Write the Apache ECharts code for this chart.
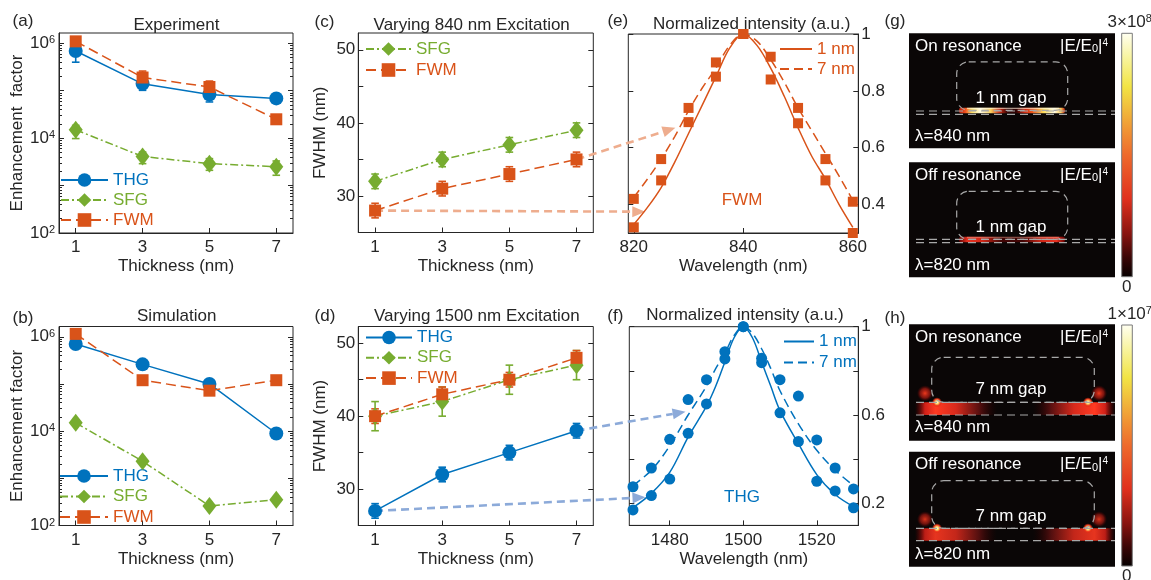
<!DOCTYPE html>
<html>
<head>
<meta charset="utf-8">
<script src="https://cdn.jsdelivr.net/npm/echarts@6/dist/echarts.min.js"></script>
<style>
  html, body { margin: 0; padding: 0; background: #fff; }
  #fig { width: 1151px; height: 580px; }
</style>
</head>
<body>
<div id="fig"></div>
<script>
// ---- data ----
const THICKNESS = [1, 3, 5, 7];

// (a) experiment
const EXP_THG = [6.9e5, 1.4e5, 8.3e4, 6.9e4];
const EXP_THG_LO = [4.0e5, 1.02e5, 5.8e4, 6.0e4];
const EXP_THG_HI = [1.0e6, 1.66e5, 1.02e5, 7.8e4];
const EXP_SFG = [1.5e4, 4.1e3, 2.9e3, 2.5e3];
const EXP_SFG_LO = [9.8e3, 2.9e3, 2.1e3, 1.65e3];
const EXP_SFG_HI = [1.86e4, 5.1e3, 3.7e3, 3.3e3];
const EXP_FWM = [1.1e6, 1.9e5, 1.2e5, 2.5e4];
const EXP_FWM_LO = [9.1e5, 1.4e5, 9.4e4, 2.3e4];
const EXP_FWM_HI = [1.35e6, 2.6e5, 1.6e5, 2.7e4];

// (b) simulation
const SIM_THG = [7.0e5, 2.6e5, 1.0e5, 8.9e3];
const SIM_SFG = [1.5e4, 2.3e3, 2.6e2, 3.5e2];
const SIM_FWM = [1.15e6, 1.2e5, 7.2e4, 1.2e5];

// (c) FWHM, 840 nm excitation
const C_SFG = [32, 35, 37, 39];
const C_SFG_ERR = [1, 1, 1, 1];
const C_FWM = [28, 31, 33, 35];
const C_FWM_ERR = [1, 1, 1, 1];

// (d) FWHM, 1500 nm excitation
const D_THG = [27, 32, 35, 38];
const D_THG_ERR = [1, 1, 1, 1];
const D_SFG = [40, 42, 45, 47];
const D_SFG_ERR = [2, 2, 2, 2];
const D_FWM = [40, 43, 45, 48];
const D_FWM_ERR = [1, 1, 1, 1];

// (e) FWM spectra
const E_WL = [820, 825, 830, 835, 840, 845, 850, 855, 860];
const E_PTS_1NM = [0.32, 0.485, 0.69, 0.85, 1.0, 0.84, 0.686, 0.485, 0.30];
const E_PTS_7NM = [0.42, 0.56, 0.74, 0.90, 1.0, 0.92, 0.74, 0.56, 0.41];
const E_FIT_WL = [820, 822.5, 825, 827.5, 830, 832.5, 835, 837.5, 840, 842.5, 845, 847.5, 850, 852.5, 855, 857.5, 860];
const E_FIT_1NM = [0.33, 0.39, 0.46, 0.55, 0.65, 0.75, 0.85, 0.95, 1.0, 0.96, 0.88, 0.78, 0.67, 0.57, 0.49, 0.40, 0.32];
const E_FIT_7NM = [0.425, 0.49, 0.56, 0.64, 0.73, 0.81, 0.88, 0.96, 1.0, 0.975, 0.91, 0.83, 0.74, 0.66, 0.58, 0.50, 0.415];

// (f) THG spectra
const F_WL = [1470, 1475, 1480, 1485, 1490, 1495, 1500, 1505, 1510, 1515, 1520, 1525, 1530];
const F_PTS_1NM = [0.17, 0.235, 0.31, 0.517, 0.65, 0.854, 1.0, 0.837, 0.61, 0.48, 0.30, 0.256, 0.18];
const F_PTS_7NM = [0.275, 0.36, 0.49, 0.67, 0.76, 0.887, 1.0, 0.857, 0.76, 0.686, 0.487, 0.36, 0.265];
const F_FIT_WL = [1470, 1475, 1480, 1485, 1490, 1492.5, 1495, 1497.5, 1500, 1502.5, 1505, 1507.5, 1510, 1515, 1520, 1525, 1530];
const F_FIT_1NM = [0.18, 0.245, 0.34, 0.50, 0.64, 0.73, 0.84, 0.95, 1.0, 0.95, 0.84, 0.73, 0.62, 0.47, 0.33, 0.24, 0.185];
const F_FIT_7NM = [0.28, 0.35, 0.46, 0.60, 0.73, 0.81, 0.88, 0.96, 1.0, 0.97, 0.90, 0.81, 0.71, 0.56, 0.44, 0.35, 0.28];

// tick labels
const THICK_TICKS = [1, 3, 5, 7];
const LOG_LABELS = [1e2, 1e4, 1e6];
const LOG_MAJOR = [1e2, 1e3, 1e4, 1e5, 1e6];
const FWHM_LABELS = [30, 40, 50];
const FWHM_TICKS = [30, 35, 40, 45, 50];
const E_X_TICKS = [820, 840, 860];
const E_Y_LABELS = [0.4, 0.6, 0.8, 1];
const F_X_TICKS = [1480, 1500, 1520];
const F_Y_LABELS = [0.2, 0.6, 1];
const F_Y_TICKS = [0.2, 0.4, 0.6, 0.8, 1];

const LOG_MINOR = [];
for (let e = 2; e <= 6; e++) {
  for (let m = 2; m <= 9; m++) {
    if (m * Math.pow(10, e) < 1.65e6) LOG_MINOR.push(m * Math.pow(10, e));
  }
}

// ---- style ----
const FONT = '"Liberation Sans", Arial, Helvetica, sans-serif';
const INK = '#262626';
const BLUE = '#0072BD', ORANGE = '#D95319', GREEN = '#77AC30';
const STYLE = {
  THG: { color: BLUE, symbol: 'circle', size: 14, dash: 'solid' },
  SFG: { color: GREEN, symbol: 'diamond', size: [14, 18], dash: [8, 3, 2, 3] },
  FWM: { color: ORANGE, symbol: 'rect', size: 12, dash: [10, 5] }
};

const grids = [], xAxes = [], yAxes = [], series = [], legends = [], graphics = [];

function addGrid(left, top, width, height) {
  grids.push({ left, top, width, height, show: true, borderColor: INK, borderWidth: 1,
    backgroundColor: 'transparent', containLabel: false, outerBoundsMode: 'none' });
  return grids.length - 1;
}

function addX(gi, min, max, ticks, name) {
  xAxes.push({
    type: 'value', gridIndex: gi, min, max, position: 'bottom',
    name, nameLocation: 'middle', nameGap: 25,
    nameTextStyle: { color: INK, fontSize: 17, fontFamily: FONT },
    axisLine: { show: true, onZero: false, lineStyle: { color: INK, width: 1 } },
    axisTick: { show: true, inside: true, length: 5, customValues: ticks, lineStyle: { color: INK } },
    axisLabel: { customValues: ticks, color: INK, fontSize: 17, fontFamily: FONT, margin: 6,
      formatter: v => String(v) },
    splitLine: { show: false }
  });
  return xAxes.length - 1;
}

// one y axis; returns its index
function addY(gi, o) {
  const ax = {
    type: o.type || 'value', gridIndex: gi, min: o.min, max: o.max, position: o.position || 'left',
    axisLine: { show: !!o.line, onZero: false, lineStyle: { color: INK, width: 1 } },
    axisTick: { show: true, inside: true, length: o.tickLen || 5, customValues: o.ticks, lineStyle: { color: INK } },
    axisLabel: o.labels
      ? { customValues: o.labels, color: INK, fontSize: 17, fontFamily: FONT, margin: o.margin || 4,
          formatter: o.formatter || (v => String(v)), rich: o.rich }
      : { show: false },
    splitLine: { show: false }
  };
  if (o.name) {
    ax.name = o.name;
    ax.nameLocation = 'middle';
    ax.nameGap = o.nameGap || 29;
    ax.nameTextStyle = { color: INK, fontSize: 17, fontFamily: FONT };
  }
  yAxes.push(ax);
  return yAxes.length - 1;
}

function logAxes(gi, name) {
  const base = { type: 'log', min: 100, max: 1.65e6 };
  const main = addY(gi, Object.assign({}, base, {
    line: true, labels: LOG_LABELS, ticks: LOG_MAJOR, name, nameGap: 30,
    formatter: v => '10{s|' + Math.round(Math.log10(v)) + '}',
    rich: { s: { fontSize: 11, verticalAlign: 'top', color: INK, fontFamily: FONT } }
  }));
  addY(gi, Object.assign({}, base, { ticks: LOG_MINOR, tickLen: 3 }));
  addY(gi, Object.assign({}, base, { position: 'right', ticks: LOG_MAJOR }));
  addY(gi, Object.assign({}, base, { position: 'right', ticks: LOG_MINOR, tickLen: 3 }));
  return main;
}

function fwhmAxes(gi) {
  const base = { min: 25, max: 52.3 };
  const main = addY(gi, Object.assign({}, base, {
    line: true, labels: FWHM_LABELS, ticks: FWHM_TICKS, name: 'FWHM (nm)', nameGap: 29, margin: 3
  }));
  addY(gi, Object.assign({}, base, { position: 'right', ticks: FWHM_TICKS }));
  return main;
}

function pairs(xs, ys) { return xs.map((x, i) => [x, ys[i]]); }

function lineSeries(kind, xi, yi, ys) {
  const s = STYLE[kind];
  series.push({
    type: 'line', name: kind, xAxisIndex: xi, yAxisIndex: yi, data: pairs(THICKNESS, ys),
    symbol: s.symbol, symbolSize: s.size, z: 5,
    lineStyle: { color: s.color, width: 1.5, type: s.dash },
    itemStyle: { color: s.color }
  });
}

function errorSeries(kind, xi, yi, lo, hi) {
  const color = STYLE[kind].color;
  series.push({
    type: 'custom', name: kind + ' err', xAxisIndex: xi, yAxisIndex: yi, z: 4,
    data: THICKNESS.map((x, i) => [x, lo[i], hi[i]]),
    renderItem(params, api) {
      const x = api.value(0);
      const a = api.coord([x, api.value(1)]), b = api.coord([x, api.value(2)]);
      const w = 3.8, st = { stroke: color, lineWidth: 1.6 };
      return { type: 'group', children: [
        { type: 'line', shape: { x1: a[0], y1: a[1], x2: b[0], y2: b[1] }, style: st },
        { type: 'line', shape: { x1: a[0] - w, y1: a[1], x2: a[0] + w, y2: a[1] }, style: st },
        { type: 'line', shape: { x1: b[0] - w, y1: b[1], x2: b[0] + w, y2: b[1] }, style: st }
      ] };
    }
  });
}

function symErr(kind, xi, yi, ys, err) {
  errorSeries(kind, xi, yi, ys.map((v, i) => v - err[i]), ys.map((v, i) => v + err[i]));
}

function addLegend(left, top, items, itemWidth, itemGap, noSymbol) {
  legends.push({
    left, top, orient: 'vertical', padding: 0, itemGap, itemWidth, itemHeight: 17,
    selectedMode: false,
    data: items.map(([name, color]) => {
      const d = { name, textStyle: { color } };
      if (noSymbol) d.itemStyle = { opacity: 0, color: 'rgba(0,0,0,0)', borderWidth: 0 };
      return d;
    }),
    textStyle: { fontSize: 17, fontFamily: FONT, lineHeight: 17 },
    formatter: n => n.replace(/^[ef] /, '')
  });
}

function txt(x, y, text, o) {
  o = o || {};
  const align = o.align || 'center';
  const style = {
    text, fontSize: o.size || 17, fontFamily: FONT, fill: o.fill || INK,
    align, textAlign: align, verticalAlign: 'middle', textVerticalAlign: 'middle'
  };
  if (o.rich) style.rich = o.rich;
  return { type: 'text', x, y, z: o.z || 20, silent: true, style };
}

// ---- (a) Experiment ----
const ga = addGrid(59, 33, 234, 200);
const xa = addX(ga, 0.5, 7.5, THICK_TICKS, 'Thickness (nm)');
const ya = logAxes(ga, 'Enhancement  factor');
errorSeries('THG', xa, ya, EXP_THG_LO, EXP_THG_HI);
errorSeries('SFG', xa, ya, EXP_SFG_LO, EXP_SFG_HI);
errorSeries('FWM', xa, ya, EXP_FWM_LO, EXP_FWM_HI);
lineSeries('THG', xa, ya, EXP_THG);
lineSeries('SFG', xa, ya, EXP_SFG);
lineSeries('FWM', xa, ya, EXP_FWM);
addLegend(60, 171.5, [['THG', BLUE], ['SFG', GREEN], ['FWM', ORANGE]], 47, 3);

// ---- (b) Simulation ----
const gb = addGrid(59, 326.5, 234, 199);
const xb = addX(gb, 0.5, 7.5, THICK_TICKS, 'Thickness (nm)');
const yb = logAxes(gb, 'Enhancement factor');
lineSeries('THG', xb, yb, SIM_THG);
lineSeries('SFG', xb, yb, SIM_SFG);
lineSeries('FWM', xb, yb, SIM_FWM);
addLegend(59, 467.5, [['THG', BLUE], ['SFG', GREEN], ['FWM', ORANGE]], 48, 3.5);

// ---- (c) Varying 840 nm ----
const gc = addGrid(358.3, 33, 235, 199.5);
const xc = addX(gc, 0.5, 7.5, THICK_TICKS, 'Thickness (nm)');
const yc = fwhmAxes(gc);
symErr('SFG', xc, yc, C_SFG, C_SFG_ERR);
symErr('FWM', xc, yc, C_FWM, C_FWM_ERR);
lineSeries('SFG', xc, yc, C_SFG);
lineSeries('FWM', xc, yc, C_FWM);
addLegend(365, 40.5, [['SFG', GREEN], ['FWM', ORANGE]], 45, 4);

// ---- (d) Varying 1500 nm ----
const gd = addGrid(358.3, 326.5, 235, 199);
const xd = addX(gd, 0.5, 7.5, THICK_TICKS, 'Thickness (nm)');
const yd = fwhmAxes(gd);
symErr('THG', xd, yd, D_THG, D_THG_ERR);
symErr('SFG', xd, yd, D_SFG, D_SFG_ERR);
symErr('FWM', xd, yd, D_FWM, D_FWM_ERR);
lineSeries('THG', xd, yd, D_THG);
lineSeries('SFG', xd, yd, D_SFG);
lineSeries('FWM', xd, yd, D_FWM);
addLegend(365, 329, [['THG', BLUE], ['SFG', GREEN], ['FWM', ORANGE]], 46, 3.3);

// ---- (e) FWM spectra ----
const ge = addGrid(628.3, 34, 230, 199);
const xe = addX(ge, 819, 861, E_X_TICKS, 'Wavelength (nm)');
const ye = addY(ge, { min: 0.3, max: 1, position: 'right', line: true, labels: E_Y_LABELS, ticks: E_Y_LABELS, margin: 3 });
addY(ge, { min: 0.3, max: 1, position: 'left', ticks: E_Y_LABELS });

// ---- (f) THG spectra ----
const gf = addGrid(629.3, 326.7, 229, 198.7);
const xf = addX(gf, 1469, 1531.3, F_X_TICKS, 'Wavelength (nm)');
const yf = addY(gf, { min: 0.1, max: 1, position: 'right', line: true, labels: F_Y_LABELS, ticks: F_Y_TICKS, margin: 3 });
addY(gf, { min: 0.1, max: 1, position: 'left', ticks: F_Y_TICKS });

function spectrum(prefix, color, symbol, size, xi, yi, fitX, fit1, fit7, ptX, pt1, pt7) {
  series.push(
    { type: 'line', name: prefix + ' 1 nm', xAxisIndex: xi, yAxisIndex: yi, data: pairs(fitX, fit1),
      smooth: 0.35, symbol: 'none', z: 3, lineStyle: { color, width: 1.5, type: 'solid' }, itemStyle: { color } },
    { type: 'line', name: prefix + ' 7 nm', xAxisIndex: xi, yAxisIndex: yi, data: pairs(fitX, fit7),
      smooth: 0.35, symbol: 'none', z: 3, lineStyle: { color, width: 1.5, type: [9, 5] }, itemStyle: { color } },
    { type: 'scatter', name: prefix + ' pts 1', xAxisIndex: xi, yAxisIndex: yi, data: pairs(ptX, pt1),
      symbol, symbolSize: size, z: 5, itemStyle: { color, opacity: 1 } },
    { type: 'scatter', name: prefix + ' pts 7', xAxisIndex: xi, yAxisIndex: yi, data: pairs(ptX, pt7),
      symbol, symbolSize: size, z: 5, itemStyle: { color, opacity: 1 } }
  );
}
spectrum('e', ORANGE, 'rect', 10, xe, ye, E_FIT_WL, E_FIT_1NM, E_FIT_7NM, E_WL, E_PTS_1NM, E_PTS_7NM);
spectrum('f', BLUE, 'circle', 11, xf, yf, F_FIT_WL, F_FIT_1NM, F_FIT_7NM, F_WL, F_PTS_1NM, F_PTS_7NM);
addLegend(779, 40.5, [['e 1 nm', ORANGE], ['e 7 nm', ORANGE]], 32, 3, true);
addLegend(783, 333, [['f 1 nm', BLUE], ['f 7 nm', BLUE]], 30, 4, true);

// ---- titles & panel letters ----
graphics.push(
  txt(23, 21.7, '(a)'), txt(176.5, 25, 'Experiment'),
  txt(23, 318, '(b)'), txt(176.7, 316.7, 'Simulation'),
  txt(324.5, 22.7, '(c)'), txt(471.7, 25, 'Varying 840 nm Excitation'),
  txt(325, 316.7, '(d)'), txt(476.8, 316, 'Varying 1500 nm Excitation'),
  txt(617.8, 21.7, '(e)'), txt(751.7, 24, 'Normalized intensity (a.u.)'),
  txt(615.3, 316, '(f)'), txt(745, 315, 'Normalized intensity (a.u.)'),
  txt(895, 21.7, '(g)'), txt(895, 318.3, '(h)'),
  txt(742, 200, 'FWM', { fill: ORANGE }),
  txt(742, 497, 'THG', { fill: BLUE })
);

// ---- field maps (g), (h) ----
const LG = (stops, vertical) => new echarts.graphic.LinearGradient(0, 0, vertical ? 0 : 1, vertical ? 1 : 0,
  stops.map(([offset, color]) => ({ offset, color })));
const RG = stops => new echarts.graphic.RadialGradient(0.5, 0.5, 0.5, stops.map(([offset, color]) => ({ offset, color })));
const WHITE_RICH = {
  b: { fontSize: 11, verticalAlign: 'bottom', fill: '#fff', fontFamily: FONT },
  s: { fontSize: 10, verticalAlign: 'top', fill: '#fff', fontFamily: FONT }
};

function fieldPanel(x0, y0, h, cfg) {
  graphics.push({ type: 'rect', z: 10, silent: true, shape: { x: x0, y: y0, width: 206, height: h }, style: { fill: '#0a0606' } });
  cfg.spots.forEach(s => graphics.push(Object.assign({ z: 11, silent: true }, s)));
  graphics.push({ type: 'rect', z: 12, silent: true,
    shape: { x: x0 + cfg.px, y: y0 + cfg.py, width: cfg.pw, height: cfg.ph, r: 12 },
    style: { fill: 'none', stroke: '#a8a8a8', lineWidth: 1.2, lineDash: [7, 5] } });
  cfg.lines.forEach(ly => graphics.push({ type: 'line', z: 12, silent: true,
    shape: { x1: x0 + 7, y1: y0 + ly, x2: x0 + 206, y2: y0 + ly },
    style: { stroke: '#a8a8a8', lineWidth: 1.2, lineDash: [8, 5] } }));
  graphics.push(
    txt(x0 + 6, y0 + 13, cfg.title, { fill: '#fff', align: 'left', z: 13 }),
    txt(x0 + 199, y0 + 13, '|E/E{b|0}|{s|4}', { fill: '#fff', align: 'right', z: 13, rich: WHITE_RICH }),
    txt(x0 + 102, y0 + 65, cfg.gap, { fill: '#fff', z: 13 }),
    txt(x0 + 6, y0 + 103, cfg.lambda, { fill: '#fff', align: 'left', z: 13 })
  );
}

function thinSpots(x0, y0, bright) {
  const stops = bright
    ? [[0, '#b01808'], [0.06, '#f05020'], [0.12, '#ffe060'], [0.2, '#fffbe0'], [0.3, '#f8d060'],
       [0.38, '#d02810'], [0.46, '#300404'], [0.54, '#300404'], [0.62, '#d02810'], [0.7, '#f06020'],
       [0.8, '#ffe060'], [0.9, '#fffbe0'], [0.96, '#ffd060'], [1, '#b01808']]
    : [[0, '#600000'], [0.08, '#e83020'], [0.22, '#d02818'], [0.4, '#400404'], [0.6, '#400404'],
       [0.78, '#d02818'], [0.92, '#e83020'], [1, '#600000']];
  return [
    { type: 'rect', shape: { x: x0 + 50, y: y0 + 74.5, width: 106, height: 5.5, r: 2 }, style: { fill: LG(stops) } },
    { type: 'line', shape: { x1: x0 + 58, y1: y0 + 75, x2: x0 + 150, y2: y0 + 75 },
      style: { stroke: bright ? 'rgba(255,250,230,0.75)' : 'rgba(255,200,180,0.45)', lineWidth: 1 } }
  ];
}

function wideSpots(x0, y0, top, bot, k) {
  const band = [[0, 'rgba(120,0,0,0)'], [0.12, '#d02018'], [0.25, '#ff3a22'], [0.5, '#d82a1c'],
    [0.78, '#5a1010'], [1, 'rgba(40,0,0,0)']];
  const bandR = band.map(([o, c]) => [1 - o, c]).reverse();
  const glow = [[0, '#fffff0'], [0.3, '#ffe070'], [0.65, '#f04020'], [1, 'rgba(220,30,10,0)']];
  const side = [[0, 'rgba(250,60,30,0.95)'], [0.6, 'rgba(200,30,20,0.6)'], [1, 'rgba(120,0,0,0)']];
  return [
    { type: 'rect', shape: { x: x0 + 6, y: y0 + top, width: 82, height: bot - top }, style: { fill: LG(band), opacity: k } },
    { type: 'rect', shape: { x: x0 + 124, y: y0 + top, width: 82, height: bot - top }, style: { fill: LG(bandR), opacity: k } },
    { type: 'ellipse', shape: { cx: x0 + 16, cy: y0 + top - 9, rx: 8, ry: 15 }, style: { fill: RG(side), opacity: k } },
    { type: 'ellipse', shape: { cx: x0 + 190, cy: y0 + top - 9, rx: 8, ry: 15 }, style: { fill: RG(side), opacity: k } },
    { type: 'ellipse', shape: { cx: x0 + 28, cy: y0 + top, rx: 8, ry: 5 }, style: { fill: RG(glow) } },
    { type: 'ellipse', shape: { cx: x0 + 179, cy: y0 + top, rx: 8, ry: 5 }, style: { fill: RG(glow) } }
  ];
}

fieldPanel(909, 33.3, 115, { title: 'On resonance', gap: '1 nm gap', lambda: 'λ=840 nm',
  px: 47.7, py: 28.5, pw: 111, ph: 48.5, lines: [77.7, 81], spots: thinSpots(909, 33.3, true) });
fieldPanel(909, 162.3, 115, { title: 'Off resonance', gap: '1 nm gap', lambda: 'λ=820 nm',
  px: 47.7, py: 29, pw: 111, ph: 48, lines: [77, 80.4], spots: thinSpots(909, 162.3, false) });
fieldPanel(909, 324.3, 116.4, { title: 'On resonance', gap: '7 nm gap', lambda: 'λ=840 nm',
  px: 22.7, py: 33, pw: 162.6, ph: 45, lines: [78, 90.7], spots: wideSpots(909, 324.3, 78, 90.7, 1) });
fieldPanel(909, 451.7, 115, { title: 'Off resonance', gap: '7 nm gap', lambda: 'λ=820 nm',
  px: 22.7, py: 29, pw: 162.6, ph: 47.6, lines: [76.6, 89], spots: wideSpots(909, 451.7, 76.6, 89, 0.9) });

const HOT = [[0, '#fffff2'], [0.1, '#f8f4a0'], [0.22, '#f2e444'], [0.4, '#f09434'], [0.5, '#ee6a2c'],
  [0.68, '#e0301e'], [0.82, '#8a1410'], [0.92, '#3a0606'], [1, '#050000']];
const SUP_RICH = { s: { fontSize: 11, verticalAlign: 'top', fill: INK, fontFamily: FONT } };
function colorbar(x, y, h, top) {
  graphics.push(
    { type: 'rect', z: 10, silent: true, shape: { x, y, width: 10.6, height: h },
      style: { fill: LG(HOT, true), stroke: '#7a7a7a', lineWidth: 1 } },
    txt(x + 8, y - 11, top, { rich: SUP_RICH }),
    txt(x + 5, y + h + 10.5, '0')
  );
}
colorbar(1121.7, 33.3, 243.4, '3×10{s|8}');
colorbar(1121.7, 325, 241, '1×10{s|7}');

// ---- render ----
const chart = echarts.init(document.getElementById('fig'));
const option = {
  animation: false,
  backgroundColor: '#fff',
  textStyle: { fontFamily: FONT, color: INK },
  grid: grids, xAxis: xAxes, yAxis: yAxes, legend: legends, series,
  graphic: { elements: graphics }
};
chart.setOption(option);

// dashed arrows linking (c)/(d) points to the spectra in (e)/(f)
function px(xi, yi, pt) { return chart.convertToPixel({ xAxisIndex: xi, yAxisIndex: yi }, pt); }
function arrow(p0, p1, color) {
  const dx = p1[0] - p0[0], dy = p1[1] - p0[1], len = Math.hypot(dx, dy);
  const ux = dx / len, uy = dy / len, head = 13, half = 5.5;
  const bx = p1[0] - ux * head, by = p1[1] - uy * head;
  graphics.push(
    { type: 'line', z: 1, silent: true, shape: { x1: p0[0], y1: p0[1], x2: bx, y2: by },
      style: { stroke: color, lineWidth: 2.6, lineDash: [8, 5] } },
    { type: 'polygon', z: 1, silent: true,
      shape: { points: [p1, [bx - uy * half, by + ux * half], [bx + uy * half, by - ux * half]] },
      style: { fill: color } }
  );
}
const ARROW_ORANGE = '#EEAD8E', ARROW_BLUE = '#8CAAD9';
arrow(px(xc, yc, [THICKNESS[3], C_FWM[3]]), px(xe, ye, [827.6, 0.67]), ARROW_ORANGE);
arrow(px(xc, yc, [THICKNESS[0], C_FWM[0]]), px(xe, ye, [822.1, 0.375]), ARROW_ORANGE);
arrow(px(xd, yd, [THICKNESS[3], D_THG[3]]), px(xf, yf, [1484.3, 0.615]), ARROW_BLUE);
arrow(px(xd, yd, [THICKNESS[0], D_THG[0]]), px(xf, yf, [1473.4, 0.227]), ARROW_BLUE);
chart.setOption(option, true);
</script>
</body>
</html>
